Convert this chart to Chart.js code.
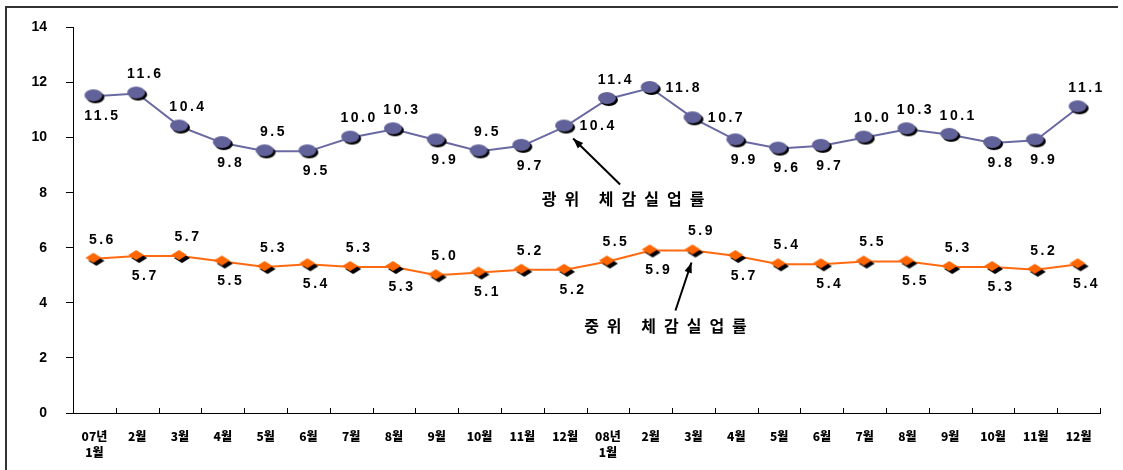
<!DOCTYPE html>
<html>
<head>
<meta charset="utf-8">
<script src="https://cdn.jsdelivr.net/npm/chart.js"></script>
<style>
  html, body { margin: 0; padding: 0; background: #fff; }
  #wrap { width: 1123px; height: 470px; position: relative; }
</style>
</head>
<body>
<div id="wrap"><canvas id="chart" width="1123" height="470"></canvas></div>
<script>
// === Dati ===
const months = [
  ['07년', '1월'], '2월', '3월', '4월', '5월', '6월', '7월', '8월', '9월', '10월', '11월', '12월',
  ['08년', '1월'], '2월', '3월', '4월', '5월', '6월', '7월', '8월', '9월', '10월', '11월', '12월'
];
const broadRate = [11.5, 11.6, 10.4, 9.8, 9.5, 9.5, 10.0, 10.3, 9.9, 9.5, 9.7, 10.4,
                   11.4, 11.8, 10.7, 9.9, 9.6, 9.7, 10.0, 10.3, 10.1, 9.8, 9.9, 11.1];
const midRate = [5.6, 5.7, 5.7, 5.5, 5.3, 5.4, 5.3, 5.3, 5.0, 5.1, 5.2, 5.2,
                 5.5, 5.9, 5.9, 5.7, 5.4, 5.4, 5.5, 5.5, 5.3, 5.3, 5.2, 5.4];
const yTicks = [0, 2, 4, 6, 8, 10, 12, 14];
const broadName = '광위 체감실업률';
const midName = '중위 체감실업률';

// posizione etichette: a = sopra, b = sotto, r = destra
const broadPos = ['b','a','a','b','a','b','a','a','b','a','b','r',
                  'a','r','r','b','b','b','a','a','a','b','b','a'];
const midPos = ['a','b','a','b','a','b','a','b','a','b','a','b',
                'a','b','a','b','a','b','a','b','a','b','a','b'];

const NUM_FONT = "'Liberation Sans', Arial, sans-serif";
const KR_FONT = "'Noto Sans CJK KR', 'Liberation Sans', sans-serif";

// === Marker con ombra ===
function makeMarker(kind) {
  const c = document.createElement('canvas');
  c.width = 24; c.height = 18;
  const g = c.getContext('2d');
  const draw = (ox, oy, color) => {
    g.fillStyle = color;
    g.beginPath();
    if (kind === 'ellipse') {
      g.ellipse(11 + ox, 8 + oy, 9, 6, 0, 0, Math.PI * 2);
    } else {
      g.moveTo(3 + ox, 8 + oy); g.lineTo(11 + ox, 3 + oy);
      g.lineTo(19 + ox, 8 + oy); g.lineTo(11 + ox, 13 + oy);
      g.closePath();
    }
    g.fill();
  };
  draw(kind === 'ellipse' ? 2 : 3, kind === 'ellipse' ? 2 : 3, '#000');
  draw(0, 0, kind === 'ellipse' ? '#62629a' : '#ff6600');
  return c;
}
const ellipseMarker = makeMarker('ellipse');
const diamondMarker = makeMarker('diamond');

// === Plugin: cornice, tick asse x, etichette, frecce ===
const decorPlugin = {
  id: 'decor',
  afterDraw(chart) {
    const ctx = chart.ctx;
    const xs = chart.scales.x, ys = chart.scales.y;
    ctx.save();

    // cornice
    ctx.strokeStyle = '#333';
    ctx.lineWidth = 2;
    ctx.beginPath();
    ctx.moveTo(6, 470); ctx.lineTo(6, 7); ctx.lineTo(1118, 7);
    ctx.stroke();

    // tick asse x verso l'alto
    ctx.strokeStyle = '#000';
    ctx.lineWidth = 1;
    const step = xs.getPixelForValue(1) - xs.getPixelForValue(0);
    const y0 = ys.getPixelForValue(0);
    ctx.beginPath();
    for (let i = 0; i <= months.length; i++) {
      const x = Math.round(xs.getPixelForValue(0) - step / 2 + i * step) + 0.5;
      ctx.moveTo(x, y0); ctx.lineTo(x, y0 - 5);
    }
    ctx.stroke();

    // etichette valori
    ctx.fillStyle = '#000';
    ctx.font = `bold 14px ${NUM_FONT}`;
    ctx.letterSpacing = '2.5px';
    ctx.textAlign = 'center';
    ctx.textBaseline = 'middle';
    const drawLabels = (data, pos) => {
      data.forEach((v, i) => {
        const x = xs.getPixelForValue(i);
        const y = ys.getPixelForValue(v);
        const p = pos[i];
        let lx = x + 8, ly = y;
        if (p === 'a') ly = y - 19;
        else if (p === 'b') ly = y + 20;
        else { lx = x + 33; ly = y; }
        ctx.fillText(v.toFixed(1), lx, ly);
      });
    };
    drawLabels(broadRate, broadPos);
    drawLabels(midRate, midPos);

    // frecce
    const arrow = (x1, y1, x2, y2) => {
      ctx.strokeStyle = '#000';
      ctx.lineWidth = 2;
      ctx.beginPath(); ctx.moveTo(x1, y1); ctx.lineTo(x2, y2); ctx.stroke();
      const a = Math.atan2(y2 - y1, x2 - x1);
      ctx.beginPath();
      ctx.moveTo(x2, y2);
      ctx.lineTo(x2 - 11 * Math.cos(a - 0.35), y2 - 11 * Math.sin(a - 0.35));
      ctx.lineTo(x2 - 11 * Math.cos(a + 0.35), y2 - 11 * Math.sin(a + 0.35));
      ctx.closePath();
      ctx.fillStyle = '#000';
      ctx.fill();
    };
    const bx = xs.getPixelForValue(11), by = ys.getPixelForValue(broadRate[11]);
    arrow(bx + 55, by + 58, bx + 8, by + 12);
    const mx = xs.getPixelForValue(14), my = ys.getPixelForValue(midRate[14]);
    arrow(mx - 18, my + 60, mx - 2, my + 12);

    ctx.font = `bold 16px ${KR_FONT}`;
    ctx.letterSpacing = '8px';
    ctx.fillText(broadName, bx + 62, by + 72);
    ctx.fillText(midName, mx - 24, my + 75);

    ctx.restore();
  }
};

new Chart(document.getElementById('chart').getContext('2d'), {
  type: 'line',
  data: {
    labels: months,
    datasets: [
      {
        label: broadName,
        data: broadRate,
        borderColor: '#6a6aa2',
        borderWidth: 2,
        pointStyle: ellipseMarker,
        pointRadius: 9,
        tension: 0
      },
      {
        label: midName,
        data: midRate,
        borderColor: '#ff6a10',
        borderWidth: 2,
        pointStyle: diamondMarker,
        pointRadius: 9,
        tension: 0
      }
    ]
  },
  options: {
    responsive: false,
    animation: false,
    events: [],
    layout: { padding: { top: 27, right: 23, left: 0, bottom: 0 } },
    plugins: {
      legend: { display: false },
      tooltip: { enabled: false }
    },
    scales: {
      x: {
        offset: true,
        grid: { display: true, drawOnChartArea: false, drawTicks: false, color: '#000' },
        border: { color: '#000', width: 1 },
        ticks: {
          color: '#000',
          padding: 16,
          maxRotation: 0,
          autoSkip: false,
          font: { family: KR_FONT, size: 12, weight: '900', lineHeight: 1.3 }
        },
        afterFit: s => { s.height = 57; }
      },
      y: {
        min: 0,
        max: 14,
        afterBuildTicks: s => { s.ticks = yTicks.map(v => ({ value: v })); },
        grid: { drawOnChartArea: false, drawTicks: true, tickLength: 7, color: '#000' },
        border: { color: '#000', width: 1 },
        ticks: {
          color: '#000',
          padding: 19,
          font: { family: NUM_FONT, size: 14, weight: 'bold' }
        },
        afterFit: s => { s.width = 73; }
      }
    }
  },
  plugins: [decorPlugin]
});
</script>
</body>
</html>
